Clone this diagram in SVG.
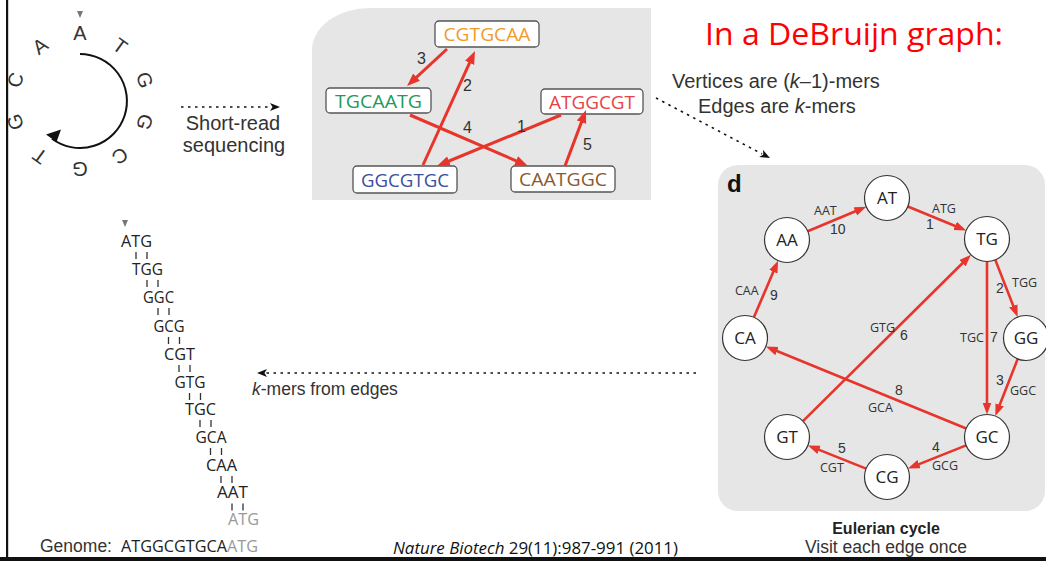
<svg xmlns="http://www.w3.org/2000/svg" width="1046" height="561" viewBox="0 0 1046 561">
  <style>
    .sans { font-family: "Liberation Sans", Arial, sans-serif; fill: #333; }
    .cal { font-family: "Open Sans", "Noto Sans", sans-serif; }
    .ring { font-family: "Liberation Sans", Arial, sans-serif; font-size: 20px; fill: #333; text-anchor: middle; dominant-baseline: central; }
    .panel { fill: #e6e6e6; }
    .read { fill: #fff; stroke: #555; stroke-width: 1.3; }
    .readtxt { font-family: "Open Sans", "Noto Sans", sans-serif; font-size: 19px; text-anchor: middle; }
    .vertex { fill: #fff; stroke: #333; stroke-width: 1.2; }
    .vtxt { font-family: "Open Sans", "Noto Sans", sans-serif; font-size: 17px; fill: #222; text-anchor: middle; }
    .elab { font-family: "Open Sans", "Noto Sans", sans-serif; font-size: 12.5px; fill: #333; }
    .enum { font-family: "Liberation Sans", Arial, sans-serif; font-size: 14px; fill: #333; }
    .mnum { font-family: "Liberation Sans", Arial, sans-serif; font-size: 16px; fill: #333; }
    .red { fill: none; stroke: #e8352b; stroke-width: 2.6; }
    .red3 { fill: none; stroke: #e8352b; stroke-width: 3; }
    .dots { fill: none; stroke: #111; stroke-width: 1.6; stroke-dasharray: 2.5 4.5; }
    .kmer { font-family: "Open Sans", "Noto Sans", sans-serif; font-size: 16.5px; fill: #222; }
    .faded { fill: #999; }
    .tick { stroke: #333; stroke-width: 1.3; }
  </style>
  <defs>
    <marker id="redhead" markerUnits="userSpaceOnUse" markerWidth="14" markerHeight="11" refX="6" refY="4.5" orient="auto">
      <path d="M0,0 L12,4.5 L0,9 z" fill="#e8352b"/>
    </marker>
    <marker id="redhead3" markerUnits="userSpaceOnUse" markerWidth="15" markerHeight="12" refX="6.5" refY="5" orient="auto">
      <path d="M0,0 L13,5 L0,10 z" fill="#e8352b"/>
    </marker>
    <marker id="dothead" markerUnits="userSpaceOnUse" markerWidth="12" markerHeight="10" refX="1" refY="4" orient="auto">
      <path d="M0,0 L10,4 L0,8 L2.5,4 z" fill="#111"/>
    </marker>
  </defs>

  <rect width="1046" height="561" fill="#fff"/>

  <!-- circular genome -->
  <g id="genome-circle">
    <polygon points="77,11 83,11 80,18" fill="#777"/>
    <path d="M80,54 A47,47 0 1 1 52,138.8" fill="none" stroke="#111" stroke-width="2"/>
    <polygon points="46,134.5 61,129.5 56.5,142" fill="#111"/>
    <text class="ring" x="80" y="33">A</text>
    <text class="ring" x="120" y="46" transform="rotate(36 120 46)">T</text>
    <text class="ring" x="144.7" y="80" transform="rotate(72 144.7 80)">G</text>
    <text class="ring" x="144.7" y="122" transform="rotate(108 144.7 122)">G</text>
    <text class="ring" x="120" y="156" transform="rotate(144 120 156)">C</text>
    <text class="ring" x="80" y="169" transform="rotate(180 80 169)">G</text>
    <text class="ring" x="40" y="156" transform="rotate(216 40 156)">T</text>
    <text class="ring" x="15.3" y="122" transform="rotate(252 15.3 122)">G</text>
    <text class="ring" x="15.3" y="80" transform="rotate(288 15.3 80)">C</text>
    <text class="ring" x="40" y="46" transform="rotate(324 40 46)">A</text>
  </g>

  <!-- step captions -->
  <g id="caption-sequencing">
    <text class="sans" font-size="20" x="233" y="130" text-anchor="middle">Short-read</text>
    <text class="sans" font-size="20" x="234" y="152" text-anchor="middle">sequencing</text>
  </g>
  <g id="caption-rules">
    <text class="sans" font-size="20" x="672" y="88">Vertices are (<tspan font-style="italic">k</tspan>–1)-mers</text>
    <text class="sans" font-size="20" x="698" y="113">Edges are <tspan font-style="italic">k</tspan>-mers</text>
  </g>
  <g id="caption-kmers">
    <text class="sans" font-size="17.5" x="252" y="395"><tspan font-style="italic">k</tspan>-mers from edges</text>
  </g>
  <g id="title">
    <text class="cal" font-size="31" fill="#ff0000" x="705" y="45" textLength="298" lengthAdjust="spacingAndGlyphs">In a DeBruijn graph:</text>
  </g>

  <!-- overlap graph of reads -->
  <path class="panel" d="M312,200 V50 A58,42 0 0 1 370,8 H651 V200 Z"/>
  <g id="read-CGTGCAA">
    <rect class="read" x="435" y="21" width="104" height="26" rx="4"/>
    <text class="readtxt" x="487" y="41" fill="#f39a2c" textLength="87" lengthAdjust="spacingAndGlyphs">CGTGCAA</text>
  </g>
  <g id="read-TGCAATG">
    <rect class="read" x="326" y="88" width="105" height="25" rx="4"/>
    <text class="readtxt" x="378.5" y="107.5" fill="#1f9a5b" textLength="87" lengthAdjust="spacingAndGlyphs">TGCAATG</text>
  </g>
  <g id="read-ATGGCGT">
    <rect class="read" x="541" y="89" width="102" height="25" rx="4"/>
    <text class="readtxt" x="592" y="108.5" fill="#e6434b" textLength="86" lengthAdjust="spacingAndGlyphs">ATGGCGT</text>
  </g>
  <g id="read-GGCGTGC">
    <rect class="read" x="353" y="166" width="104" height="27" rx="4"/>
    <text class="readtxt" x="405" y="186.5" fill="#3b4ea0" textLength="88" lengthAdjust="spacingAndGlyphs">GGCGTGC</text>
  </g>
  <g id="read-CAATGGC">
    <rect class="read" x="511" y="166" width="104" height="26" rx="4"/>
    <text class="readtxt" x="563" y="186" fill="#8b5a2b" textLength="88" lengthAdjust="spacingAndGlyphs">CAATGGC</text>
  </g>
  <g id="read-connectors">
    <path class="red3" d="M447,49 L411.8,81.6" marker-end="url(#redhead3)"/>
    <path class="red3" d="M423,165 L472.3,56.9" marker-end="url(#redhead3)"/>
    <path class="red3" d="M410,115 L522,163.4" marker-end="url(#redhead3)"/>
    <path class="red3" d="M561,115 L443,163.5" marker-end="url(#redhead3)"/>
    <path class="red3" d="M565,166 L583.7,116.1" marker-end="url(#redhead3)"/>
    <text class="mnum" x="417" y="64">3</text>
    <text class="mnum" x="463" y="91">2</text>
    <text class="mnum" x="463" y="133">4</text>
    <text class="mnum" x="517" y="132">1</text>
    <text class="mnum" x="583" y="150">5</text>
  </g>

  <!-- de Bruijn graph -->
  <rect class="panel" x="718" y="165" width="327" height="346" rx="20"/>
  <text class="sans" font-size="24" font-weight="bold" style="fill:#111" x="727" y="192">d</text>

  <g id="edges">
    <path class="red" d="M907.8,206.5 L960.7,228.2" marker-end="url(#redhead)"/>
    <path class="red" d="M995.3,259.9 L1015.5,311.5" marker-end="url(#redhead)"/>
    <path class="red" d="M1017.7,358.9 L997.5,410.5" marker-end="url(#redhead)"/>
    <path class="red" d="M966.1,445.4 L913.5,466.4" marker-end="url(#redhead)"/>
    <path class="red" d="M866.1,468.6 L813.5,447.6" marker-end="url(#redhead)"/>
    <path class="red" d="M803,421.2 L966.7,259" marker-end="url(#redhead)"/>
    <path class="red" d="M987,261.5 L987,408.5" marker-end="url(#redhead)"/>
    <path class="red" d="M966.2,428.5 L771.4,348.8" marker-end="url(#redhead)"/>
    <path class="red" d="M753.9,317.3 L775.7,266.2" marker-end="url(#redhead)"/>
    <path class="red" d="M807.7,231.3 L860.8,209" marker-end="url(#redhead)"/>

    <text class="elab" x="932" y="213">ATG</text>
    <text class="enum" x="926" y="229">1</text>
    <text class="elab" x="1012" y="287">TGG</text>
    <text class="enum" x="996" y="293">2</text>
    <text class="enum" x="996" y="385">3</text>
    <text class="elab" x="1010" y="395">GGC</text>
    <text class="enum" x="932" y="452">4</text>
    <text class="elab" x="932" y="470">GCG</text>
    <text class="enum" x="838" y="453">5</text>
    <text class="elab" x="820" y="472">CGT</text>
    <text class="elab" x="870" y="332">GTG</text>
    <text class="enum" x="900" y="340">6</text>
    <text class="elab" x="960" y="342">TGC</text>
    <text class="enum" x="990" y="342">7</text>
    <text class="enum" x="895" y="395">8</text>
    <text class="elab" x="868" y="412">GCA</text>
    <text class="elab" x="735" y="295">CAA</text>
    <text class="enum" x="770" y="300">9</text>
    <text class="elab" x="814" y="215">AAT</text>
    <text class="enum" x="830" y="234">10</text>
  </g>

  <g id="node-AT"><circle class="vertex" cx="887" cy="198" r="22.5"/><text class="vtxt" x="887" y="204">AT</text></g>
  <g id="node-TG"><circle class="vertex" cx="987" cy="239" r="22.5"/><text class="vtxt" x="987" y="245">TG</text></g>
  <g id="node-GG"><circle class="vertex" cx="1026" cy="338" r="22.5"/><text class="vtxt" x="1026" y="344">GG</text></g>
  <g id="node-GC"><circle class="vertex" cx="987" cy="437" r="22.5"/><text class="vtxt" x="987" y="443">GC</text></g>
  <g id="node-CG"><circle class="vertex" cx="887" cy="477" r="22.5"/><text class="vtxt" x="887" y="483">CG</text></g>
  <g id="node-GT"><circle class="vertex" cx="787" cy="437" r="22.5"/><text class="vtxt" x="787" y="443">GT</text></g>
  <g id="node-CA"><circle class="vertex" cx="745" cy="338" r="22.5"/><text class="vtxt" x="745" y="344">CA</text></g>
  <g id="node-AA"><circle class="vertex" cx="787" cy="240" r="22.5"/><text class="vtxt" x="787" y="246">AA</text></g>

  <g id="caption-euler">
    <text class="sans" font-size="16" font-weight="bold" style="fill:#222" x="886" y="534" text-anchor="middle">Eulerian cycle</text>
    <text class="sans" font-size="17.5" x="886" y="553" text-anchor="middle">Visit each edge once</text>
  </g>

  <!-- dotted step arrows -->
  <g id="step-arrows">
    <path class="dots" d="M181,107 L271,107" marker-end="url(#dothead)"/>
    <path class="dots" d="M656,98 L762,153.9" marker-end="url(#dothead)"/>
    <path class="dots" d="M696,373 L266,373" marker-end="url(#dothead)"/>
  </g>

  <!-- k-mer ladder -->
  <g id="kmer-ladder">
    <polygon points="122,220 128,220 125,227" fill="#777"/>
    <text class="kmer" x="121" y="247" textLength="31" lengthAdjust="spacingAndGlyphs">ATG</text>
    <text class="kmer" x="132" y="275" textLength="31" lengthAdjust="spacingAndGlyphs">TGG</text>
    <text class="kmer" x="143" y="302.7" textLength="31" lengthAdjust="spacingAndGlyphs">GGC</text>
    <text class="kmer" x="153.5" y="331.5" textLength="31" lengthAdjust="spacingAndGlyphs">GCG</text>
    <text class="kmer" x="164" y="360" textLength="31" lengthAdjust="spacingAndGlyphs">CGT</text>
    <text class="kmer" x="174.5" y="387.5" textLength="31" lengthAdjust="spacingAndGlyphs">GTG</text>
    <text class="kmer" x="185" y="415" textLength="31" lengthAdjust="spacingAndGlyphs">TGC</text>
    <text class="kmer" x="195.5" y="442.7" textLength="31" lengthAdjust="spacingAndGlyphs">GCA</text>
    <text class="kmer" x="206" y="470.7" textLength="31" lengthAdjust="spacingAndGlyphs">CAA</text>
    <text class="kmer" x="217" y="498.3" textLength="31" lengthAdjust="spacingAndGlyphs">AAT</text>
    <text class="kmer faded" x="228" y="525" textLength="31" lengthAdjust="spacingAndGlyphs">ATG</text>
    <g class="tick">
      <path d="M136,252 v7 M147,252 v7"/>
      <path d="M147,280 v7 M158,280 v7"/>
      <path d="M158,308 v7 M169,308 v7"/>
      <path d="M168.5,337 v7 M179.5,337 v7"/>
      <path d="M179,365 v7 M190,365 v7"/>
      <path d="M189.5,393 v7 M200.5,393 v7"/>
      <path d="M200,420 v7 M211,420 v7"/>
      <path d="M210.5,448 v7 M221.5,448 v7"/>
      <path d="M221,476 v7 M232,476 v7"/>
      <path d="M232,503.5 v7 M243,503.5 v7"/>
    </g>
    <text class="sans" font-size="17.5" x="40" y="552">Genome:</text>
    <text class="kmer" x="121" y="552" textLength="137" lengthAdjust="spacingAndGlyphs">ATGGCGTGCA<tspan class="faded">ATG</tspan></text>
  </g>

  <g id="citation">
    <text class="cal" font-size="16" fill="#111" x="393" y="554" textLength="285" lengthAdjust="spacingAndGlyphs"><tspan font-style="italic">Nature Biotech</tspan> 29(11):987-991 (2011)</text>
  </g>

  <!-- frame -->
  <rect x="6" y="0" width="2.2" height="561" fill="#111"/>
  <rect x="0" y="557" width="1046" height="4" fill="#111"/>
</svg>
